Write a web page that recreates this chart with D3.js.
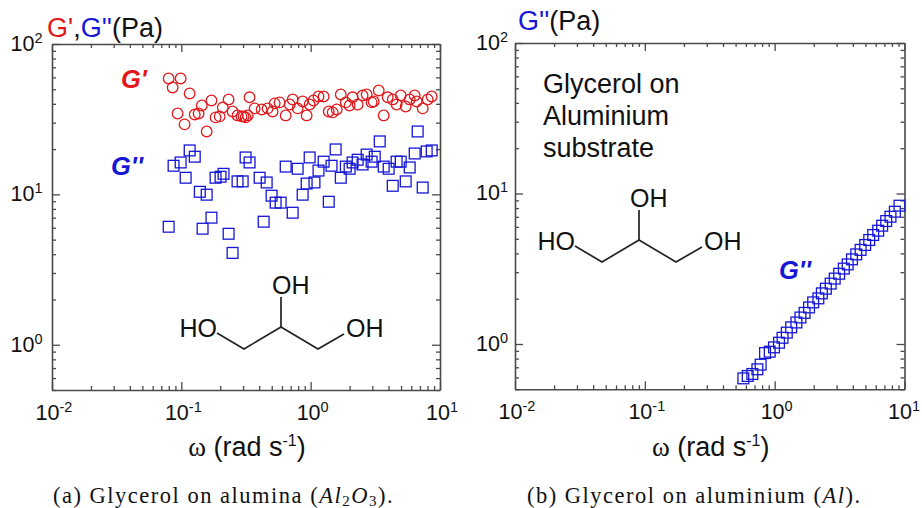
<!DOCTYPE html>
<html><head><meta charset="utf-8">
<script src="https://cdn.jsdelivr.net/npm/d3@7"></script>
<style>html,body{margin:0;padding:0;background:#fff}svg{display:block}text{font-family:"Liberation Sans",Arial,sans-serif;fill:#111}</style>
</head><body><svg id="c" width="922" height="508"></svg>
<script>
const redX=[.0798,.0988,.0857,.116,.171,.144,.232,.0936,.127,.136,.209,.184,.198,.106,.157,.249,.272,.303,.337,.326,.369,.418,.465,.292,.314,.508,.527,.575,.641,.689,.726,.793,.867,.931,.982,1.05,1.15,1.26,1.38,1.48,1.59,1.71,1.87,2.00,2.11,2.31,2.52,2.71,2.96,3.07,3.36,3.67,3.94,4.31,4.62,4.97,5.43,5.83,6.37,6.60,7.35,8.03,8.63];
const redY=[59,59,51.4,46.9,42.1,39,42.8,34.5,34,34.5,37.8,32.5,33,29.2,26.2,35.6,33.5,33,44.2,33.5,37.3,36.7,37.3,33,32.5,35.6,40.3,40.9,33.5,39.6,42.8,37.3,41.5,33.5,39.6,42.1,44.8,44.8,35.6,35.1,36.7,46.2,40.9,39,44.2,39.6,45.5,46.2,40.9,41.5,49.1,33.5,44.2,42.8,39.6,45.5,38.4,42.8,45.5,41.5,37.3,42.8,44.8];
const blueX=[.0798,.0871,.0988,.108,.116,.127,.139,.146,.157,.171,.184,.201,.212,.232,.249,.272,.298,.314,.337,.403,.433,.457,.499,.536,.586,.641,.726,.793,.867,.931,.982,1.07,1.15,1.26,1.38,1.45,1.56,1.71,1.87,2.00,2.11,2.31,2.52,2.71,2.96,3.13,3.42,3.67,4.01,4.31,4.62,4.97,5.43,5.83,6.37,6.72,7.35,7.89,8.63];
const blueY=[6.09,15.5,16.3,12.9,19.6,17.8,10.4,5.91,9.95,7.0,12.9,13.1,13.7,5.47,4.08,12.2,12.2,17.6,16.3,12.9,6.58,12.0,9.8,8.81,8.81,15.3,7.55,14.8,9.95,11.8,17.6,12.0,14.4,16.5,8.93,15.5,19.9,12.9,15.3,14.8,16.3,17.0,15.8,18.4,16.5,17.8,22.5,15.3,14.8,11.4,16.5,16.5,12.2,15.1,18.7,26.2,11.1,19.3,19.6];
const alX=[.574,.620,.673,.736,.780,.843,.916,.988,1.08,1.15,1.24,1.34,1.47,1.58,1.70,1.84,1.98,2.17,2.31,2.48,2.70,2.90,3.14,3.41,3.65,3.94,4.25,4.59,4.98,5.35,5.74,6.27,6.73,7.23,7.80,8.43,9.15];
const alY=[.591,.613,.632,.679,.729,.871,.889,.950,1.02,1.10,1.19,1.29,1.39,1.50,1.61,1.75,1.89,2.01,2.17,2.33,2.52,2.72,2.93,3.17,3.38,3.65,3.94,4.22,4.55,4.91,5.30,5.66,6.11,6.56,7.01,7.57,8.30];
const xTicks=[.01,.02,.03,.04,.05,.06,.07,.08,.09,.1,.2,.3,.4,.5,.6,.7,.8,.9,1,2,3,4,5,6,7,8,9,10];
const yTicks=[.5,.6,.7,.8,.9,1,2,3,4,5,6,7,8,9,10,20,30,40,50,60,70,80,90,100];
const RED="#e2181c",BLUE="#1616d6",AXIS="#4a4a4a";
const svg=d3.select("#c");
const isMajor=d=>Math.abs(Math.log10(d)-Math.round(Math.log10(d)))<1e-9;

function styleAxis(g,sign,horizontal){
  g.select(".domain").attr("stroke",AXIS).attr("stroke-width",1.6);
  g.selectAll(".tick line").attr("stroke",AXIS).attr("stroke-width",1.3)
    .attr(horizontal?"y2":"x2",d=>sign*(isMajor(d)?8:4));
  g.selectAll(".tick text").remove();
}
function sup(sel,x,y,anchor,d){
  const t=sel.append("text").attr("x",x).attr("y",y).attr("text-anchor",anchor).attr("font-size",21.5).text("10");
  t.append("tspan").attr("dy",-8).attr("font-size",14.5).text(Math.round(Math.log10(d)));
}
function panel(px,py,xlabelY,labelPad){
  const x=d3.scaleLog().domain([.01,10]).range(px);
  const y=d3.scaleLog().domain([.5,100]).range(py);
  const g=svg.append("g");
  const mk=(ax,tx,ty,sign,h)=>g.append("g").attr("transform",`translate(${tx},${ty})`)
    .call(ax.tickSizeOuter(0).tickFormat("")).call(a=>styleAxis(a,sign,h));
  mk(d3.axisBottom(x).tickValues(xTicks),0,py[0],-1,true);
  mk(d3.axisTop(x).tickValues(xTicks),0,py[1],1,true);
  mk(d3.axisLeft(y).tickValues(yTicks),px[0],0,1,false);
  mk(d3.axisRight(y).tickValues(yTicks),px[1],0,-1,false);
  [.01,.1,1,10].forEach(d=>sup(g,Math.min(x(d)+2,904),py[0]+29.5,"middle",d));
  [1,10,100].forEach(d=>sup(g,px[0]-labelPad,y(d)+7,"end",d));
  const l=g.append("text").attr("x",(px[0]+px[1])/2+1).attr("y",xlabelY).attr("text-anchor","middle").attr("font-size",27);
  l.append("tspan").style("font-family","Liberation Serif").text("ω");
  l.append("tspan").text(" (rad s");
  l.append("tspan").attr("dy",-10).attr("font-size",16).text("-1");
  l.append("tspan").attr("dy",10).text(")");
  return {x,y,g};
}
function circles(p,xs,ys,c){
  p.g.append("g").selectAll("circle").data(xs).join("circle")
   .attr("cx",d=>p.x(d)).attr("cy",(d,i)=>p.y(ys[i])).attr("r",5.3)
   .attr("fill","none").attr("stroke",c).attr("stroke-width",1.3);
}
function squares(p,xs,ys,c){
  const s=10.8;
  p.g.append("g").selectAll("rect").data(xs).join("rect")
   .attr("x",d=>p.x(d)-s/2).attr("y",(d,i)=>p.y(ys[i])-s/2).attr("width",s).attr("height",s)
   .attr("fill","none").attr("stroke",c).attr("stroke-width",1.3);
}
function molecule(ox,oy){
  const m=svg.append("g").attr("transform",`translate(${ox},${oy})`);
  const line=d3.line();
  m.append("path").attr("d",line([[0,-4],[27,12],[64,-10],[101,12],[127,-3]])).attr("fill","none").attr("stroke","#222").attr("stroke-width",1.7);
  m.append("path").attr("d",line([[64,-10],[64,-40]])).attr("fill","none").attr("stroke","#222").attr("stroke-width",1.7);
  [["HO",-37.5,0],["OH",55,-43],["OH",129,0]].forEach(([s,a,b])=>m.append("text").attr("x",a).attr("y",b).attr("font-size",25).text(s));
}
function annot(x,y,s,c){
  svg.append("text").attr("x",x).attr("y",y).attr("font-size",25.5).attr("font-weight","bold").attr("font-style","italic").style("fill",c).text(s);
}

const a=panel([52,440],[390,44],456,9.5);
circles(a,redX,redY,RED);
squares(a,blueX,blueY,BLUE);
const b=panel([515,904.5],[389.3,43],456,7);
squares(b,alX,alY,BLUE);

// titles
const t1=svg.append("text").attr("x",47).attr("y",37).attr("font-size",27);
t1.append("tspan").style("fill",RED).text("G'");
t1.append("tspan").text(",");
t1.append("tspan").style("fill",BLUE).text("G''");
t1.append("tspan").text("(Pa)");
const t2=svg.append("text").attr("x",518).attr("y",30).attr("font-size",27);
t2.append("tspan").style("fill",BLUE).text("G''");
t2.append("tspan").text("(Pa)");

annot(121,88,"G'",RED);
annot(111,175,"G''",BLUE);
annot(779,279,"G''",BLUE);

["Glycerol on","Aluminium","substrate"].forEach((s,i)=>svg.append("text").attr("x",543).attr("y",[93,125,157][i]).attr("font-size",27).text(s));

molecule(217,337);
molecule(575,250);

function caption(x,y,parts){
  const t=svg.append("text").attr("x",x).attr("y",y).attr("font-size",22.5).attr("letter-spacing",1.5).style("font-family","Liberation Serif");
  parts.forEach(([s,k])=>{
    const p=t.append("tspan").text(s);
    if(k==="i")p.attr("font-style","italic");
    if(k==="s")p.attr("font-size",15).attr("dy",2.5);
    if(k==="r")p.attr("font-style","italic").attr("dy",-2.5);
    if(k==="e")p.attr("dy",-2.5);
  });
}
caption(53,503,[["(a)  Glycerol on alumina (",""],["Al","i"],["2","s"],["O","r"],["3","s"],[").","e"]]);
caption(527,503,[["(b)  Glycerol on aluminium (",""],["Al","i"],[").",""]]);
</script></body></html>
